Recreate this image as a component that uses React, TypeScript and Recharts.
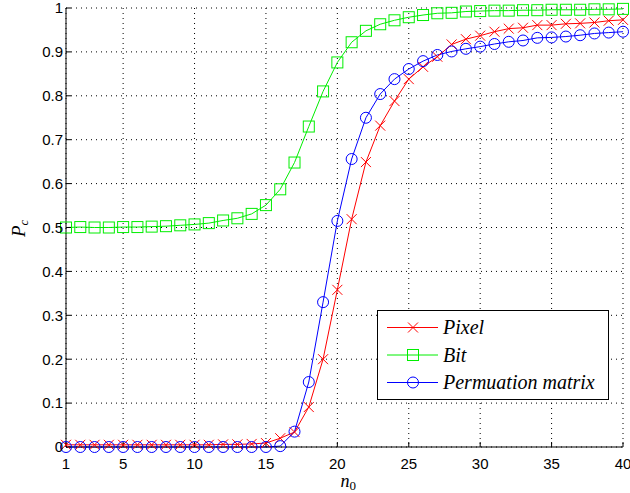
import React from 'react';
import { LineChart, Line, XAxis, YAxis, CartesianGrid, Legend } from 'recharts';

const n0 = [1,2,3,4,5,6,7,8,9,10,11,12,13,14,15,16,17,18,19,20,21,22,23,24,25,26,27,28,29,30,31,32,33,34,35,36,37,38,39,40];
const pixel = [0.005,0.005,0.005,0.005,0.005,0.005,0.005,0.005,0.005,0.005,0.005,0.006,0.006,0.007,0.009,0.02,0.034,0.091,0.2,0.358,0.519,0.649,0.732,0.788,0.838,0.866,0.889,0.917,0.929,0.937,0.946,0.953,0.955,0.961,0.961,0.964,0.965,0.967,0.971,0.973];
const bit = [0.5,0.501,0.5,0.5,0.501,0.501,0.502,0.503,0.505,0.507,0.51,0.516,0.521,0.531,0.551,0.587,0.648,0.73,0.81,0.876,0.922,0.948,0.963,0.972,0.979,0.984,0.988,0.989,0.992,0.993,0.994,0.994,0.995,0.995,0.996,0.996,0.996,0.997,0.997,0.998];
const perm = [0,0,0,0,0,0,0,0,0,0,0,0,0,0,0,0.002,0.035,0.148,0.33,0.515,0.656,0.75,0.804,0.838,0.861,0.879,0.893,0.901,0.907,0.912,0.918,0.923,0.926,0.932,0.933,0.935,0.938,0.942,0.944,0.946];
const xTicks = [1,5,10,15,20,25,30,35,40];
const yTicks = [0,0.1,0.2,0.3,0.4,0.5,0.6,0.7,0.8,0.9,1];
const seriesNames = ['Pixel', 'Bit', 'Permuation matrix'];
const seriesColors = ['#ff0000', '#00ee00', '#0000ff'];

const data = n0.map((x, i) => ({ x, pixel: pixel[i], bit: bit[i], perm: perm[i] }));

const Cross = ({ cx, cy, color }: any) => (
  <g>
    <line x1={cx - 5} y1={cy - 5} x2={cx + 5} y2={cy + 5} stroke={color} strokeWidth={1} />
    <line x1={cx - 5} y1={cy + 5} x2={cx + 5} y2={cy - 5} stroke={color} strokeWidth={1} />
  </g>
);
const Square = ({ cx, cy, color }: any) => (
  <rect x={cx - 5.5} y={cy - 5.5} width={11} height={11} fill="none" stroke={color} strokeWidth={1} />
);
const Circ = ({ cx, cy, color }: any) => (
  <circle cx={cx} cy={cy} r={5.5} fill="none" stroke={color} strokeWidth={1} />
);
const markers = [Cross, Square, Circ];

const renderLegend = () => (
  <svg width={232} height={90} style={{ display: 'block' }}>
    <rect x={0.5} y={0.5} width={231} height={89} fill="#fff" stroke="#000" strokeWidth={1} />
    {seriesNames.map((name, i) => {
      const y = 17.5 + i * 27.5;
      const M = markers[i];
      return (
        <g key={name}>
          <line x1={10} x2={61} y1={y} y2={y} stroke={seriesColors[i]} strokeWidth={1} />
          <M cx={36} cy={y} color={seriesColors[i]} />
          <text x={66} y={y + 6.5} fontFamily="Liberation Serif" fontStyle="italic" fontSize={20} fill="#000">{name}</text>
        </g>
      );
    })}
  </svg>
);

const tickStyle = { fontFamily: 'Liberation Sans, Arial, sans-serif', fontSize: 15, fill: '#000' };

export default function App() {
  return (
    <div style={{ position: 'absolute', left: 0, top: 0, width: 630, height: 493, background: '#fff' }}>
      <LineChart width={630} height={493} data={data} margin={{ top: 8, right: 7, left: 0, bottom: 0 }}>
        <CartesianGrid stroke="#000" strokeDasharray="1 4" strokeWidth={1} />
        <XAxis dataKey="x" type="number" domain={[1, 40]} ticks={xTicks} height={46}
          stroke="#000" tickSize={-5} tickMargin={16} tick={tickStyle} interval={0}
          label={{ content: (p: any) => {
            const vb = p.viewBox;
            return (
              <text x={vb.x + vb.width / 2 - 4} y={487} fontFamily="Liberation Serif" fontStyle="italic" fontSize={18} fill="#000">
                n<tspan fontSize={13} fontStyle="normal" dy={3}>0</tspan>
              </text>
            );
          } }} />
        <XAxis xAxisId="top" orientation="top" type="number" dataKey="x" domain={[1, 40]} ticks={xTicks} height={0}
          stroke="#000" tickSize={-5} tickFormatter={() => ''} interval={0} />
        <YAxis type="number" domain={[0, 1]} ticks={yTicks} width={66} stroke="#000" tickSize={-5} tickMargin={8}
          tick={tickStyle} interval={0} tickFormatter={(v: number) => String(Math.round(v * 10) / 10)}
          label={{ content: (p: any) => {
            const vb = p.viewBox;
            const cy = vb.y + vb.height / 2;
            return (
              <text transform={`translate(25, ${cy + 9.5}) rotate(-90)`} fontFamily="Liberation Serif" fontStyle="italic" fontSize={19} fill="#000">
                P<tspan fontSize={13} dy={3}>c</tspan>
              </text>
            );
          } }} />
        <YAxis yAxisId="right" orientation="right" type="number" domain={[0, 1]} ticks={yTicks} width={0}
          stroke="#000" tickSize={-5} tickFormatter={() => ''} interval={0} />
        <Legend layout="vertical" align="center" verticalAlign="middle" content={renderLegend}
          wrapperStyle={{ position: 'absolute', left: 377, top: 310, width: 232, height: 90 }} />
        <Line type="linear" dataKey="pixel" stroke={seriesColors[0]} strokeWidth={1} isAnimationActive={false}
          dot={(p: any) => <Cross key={'p' + p.index} cx={p.cx} cy={p.cy} color={seriesColors[0]} />} activeDot={false} />
        <Line type="linear" dataKey="bit" stroke={seriesColors[1]} strokeWidth={1} isAnimationActive={false}
          dot={(p: any) => <Square key={'b' + p.index} cx={p.cx} cy={p.cy} color={seriesColors[1]} />} activeDot={false} />
        <Line type="linear" dataKey="perm" stroke={seriesColors[2]} strokeWidth={1} isAnimationActive={false}
          dot={(p: any) => <Circ key={'c' + p.index} cx={p.cx} cy={p.cy} color={seriesColors[2]} />} activeDot={false} />
      </LineChart>
    </div>
  );
}
